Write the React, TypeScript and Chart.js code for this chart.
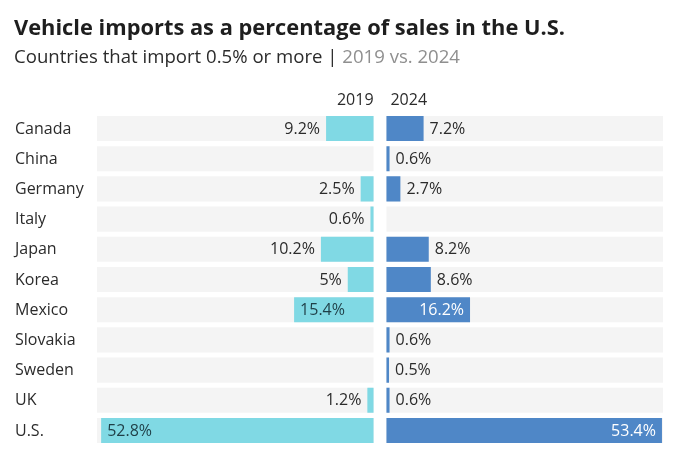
import React, { useEffect, useRef } from "react";
import { Chart, registerables } from "chart.js";

Chart.register(...registerables);

const title = "Vehicle imports as a percentage of sales in the U.S.";
const subtitleMain = "Countries that import 0.5% or more | ";
const subtitleYears = "2019 vs. 2024";
const categories = ["Canada", "China", "Germany", "Italy", "Japan", "Korea", "Mexico", "Slovakia", "Sweden", "UK", "U.S."];
const yearLabels = ["2019", "2024"];
const values2019: (number | null)[] = [9.2, null, 2.5, 0.6, 10.2, 5, 15.4, null, null, 1.2, 52.8];
const values2024: (number | null)[] = [7.2, 0.6, 2.7, null, 8.2, 8.6, 16.2, 0.6, 0.5, 0.6, 53.4];

const HALF_GAP = 1.25;
const PANEL_MAX = 53.6;
const AXIS_MAX = PANEL_MAX + HALF_GAP;
const INSIDE_THRESHOLD = 12;

const FONT = '"Open Sans", sans-serif';
const COLOR_2019 = "#80d9e4";
const COLOR_2024 = "#4f87c7";
const BG = "#f4f4f4";
const TEXT = "#2b2b2b";

export default function App() {
  const ref = useRef<HTMLCanvasElement | null>(null);
  useEffect(() => {
    const canvas = ref.current;
    if (!canvas) return;
    const labelPlugin = {
      id: "labels",
      afterDatasetsDraw(chart: any) {
        const ctx = chart.ctx;
        const xs = chart.scales.x;
        const ys = chart.scales.y;
        ctx.save();
        // title
        ctx.textBaseline = "alphabetic";
        ctx.textAlign = "left";
        ctx.fillStyle = "#1e1e1e";
        ctx.font = `bold 22px ${FONT}`;
        const tw = ctx.measureText(title).width;
        ctx.save();
        ctx.translate(14, 35);
        ctx.scale(551 / tw, 1);
        ctx.fillText(title, 0, 0);
        ctx.restore();
        // subtitle
        ctx.font = `18.5px ${FONT}`;
        const fw = ctx.measureText(subtitleMain + subtitleYears).width;
        const mw = ctx.measureText(subtitleMain).width;
        ctx.save();
        ctx.translate(14, 63);
        ctx.scale(446 / fw, 1);
        ctx.fillStyle = TEXT;
        ctx.fillText(subtitleMain, 0, 0);
        ctx.fillStyle = "#8f8f8f";
        ctx.fillText(subtitleYears, mw, 0);
        ctx.restore();
        // year headers
        ctx.font = `16px ${FONT}`;
        ctx.fillStyle = TEXT;
        ctx.textAlign = "right";
        ctx.fillText(yearLabels[0], xs.getPixelForValue(-HALF_GAP), 105);
        ctx.textAlign = "left";
        ctx.fillText(yearLabels[1], xs.getPixelForValue(HALF_GAP) + 4, 105);
        // categories and values
        ctx.textBaseline = "middle";
        categories.forEach((c, i) => {
          const y = ys.getPixelForValue(i) + 0.5;
          ctx.textAlign = "left";
          ctx.fillStyle = TEXT;
          ctx.font = `16px ${FONT}`;
          ctx.fillText(c, 15, y);
          const v1 = values2019[i];
          if (v1 != null) {
            const end = xs.getPixelForValue(-HALF_GAP - v1);
            if (v1 > INSIDE_THRESHOLD) {
              ctx.textAlign = "left";
              ctx.fillStyle = "#1f3f47";
              ctx.fillText(`${v1}%`, end + 6, y);
            } else {
              ctx.textAlign = "right";
              ctx.fillStyle = TEXT;
              ctx.fillText(`${v1}%`, end - 6, y);
            }
          }
          const v2 = values2024[i];
          if (v2 != null) {
            const end = xs.getPixelForValue(HALF_GAP + v2);
            if (v2 > INSIDE_THRESHOLD) {
              ctx.textAlign = "right";
              ctx.fillStyle = "#ffffff";
              ctx.fillText(`${v2}%`, end - 6, y);
            } else {
              ctx.textAlign = "left";
              ctx.fillStyle = TEXT;
              ctx.fillText(`${v2}%`, end + 6, y);
            }
          }
        });
        ctx.restore();
      },
    };
    const common = {
      grouped: false,
      barPercentage: 0.83,
      categoryPercentage: 1,
      borderWidth: 0,
      borderSkipped: false,
    };
    const chart = new Chart(canvas, {
      type: "bar",
      data: {
        labels: categories,
        datasets: [
          { ...common, label: yearLabels[0], data: values2019.map((v) => (v == null ? null : [-HALF_GAP - v, -HALF_GAP])), backgroundColor: COLOR_2019 },
          { ...common, label: yearLabels[1], data: values2024.map((v) => (v == null ? null : [HALF_GAP, HALF_GAP + v])), backgroundColor: COLOR_2024 },
          { ...common, label: "bgL", data: categories.map(() => [-AXIS_MAX, -HALF_GAP]), backgroundColor: BG },
          { ...common, label: "bgR", data: categories.map(() => [HALF_GAP, AXIS_MAX]), backgroundColor: BG },
        ] as any,
      },
      options: {
        indexAxis: "y",
        responsive: false,
        animation: false,
        devicePixelRatio: 1,
        layout: { padding: { left: 97, right: 17, top: 113.4, bottom: 25.4 } },
        plugins: { legend: { display: false }, tooltip: { enabled: false }, title: { display: false } },
        scales: {
          x: { type: "linear", min: -AXIS_MAX, max: AXIS_MAX, display: false },
          y: { type: "category", display: false, offset: true },
        },
      } as any,
      plugins: [labelPlugin],
    });
    return () => chart.destroy();
  }, []);
  return (
    <div style={{ position: "absolute", left: 0, top: 0, width: 680, height: 471, background: "#fff" }}>
      <canvas ref={ref} width={680} height={471} style={{ display: "block" }} />
    </div>
  );
}
